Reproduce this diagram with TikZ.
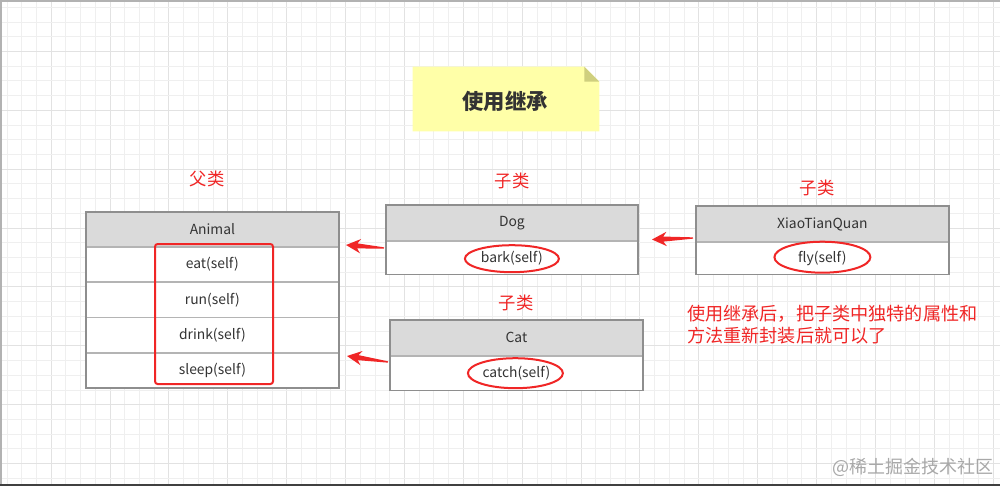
\documentclass[tikz,border=0pt]{standalone}
\usepackage{fontspec}
\setmainfont{Noto Sans CJK SC}
\usetikzlibrary{calc,shapes.geometric}
\definecolor{gridminor}{HTML}{EFEFEF}
\definecolor{gridmajor}{HTML}{E2E2E2}
\definecolor{boxgray}{HTML}{8E8E8E}
\definecolor{sepgray}{HTML}{B4B4B4}
\definecolor{headgray}{HTML}{DADADA}
\definecolor{textdark}{HTML}{333333}
\definecolor{annored}{HTML}{F02626}
\definecolor{notefill}{HTML}{FFFFA8}
\definecolor{notefold}{HTML}{CFCF7E}
\definecolor{wmgray}{HTML}{A8A8A8}
\newcommand\tarrow[2]{%
  \path ($(#2)!8.5pt!(#1)$) coordinate (ai) ($(#2)!11pt!(#1)$) coordinate (ab);
  \fill[annored] ($(#1)!0.5pt!90:(#2)$) -- ($(ai)!1.9pt!90:(#2)$) -- ($(ab)!5.4pt!90:(#2)$) -- (#2)
    -- ($(ab)!5.4pt!-90:(#2)$) -- ($(ai)!1.9pt!-90:(#2)$) -- ($(#1)!0.5pt!-90:(#2)$) -- cycle;}
\begin{document}
\begin{tikzpicture}[x=0.75pt,y=-0.75pt,
  cell/.style={draw=sepgray, line width=0.6pt, anchor=north west, inner sep=0pt,
    text=textdark, font=\fontsize{10.4}{12}\selectfont},
  headcell/.style={cell, fill=headgray},
  rowcell/.style={cell, fill=white},
  outline/.style={draw=boxgray, line width=1.1pt},
  hilite/.style={draw=annored, line width=1.5pt},
  redlabel/.style={text=annored, font=\fontsize{13}{15}\selectfont},
]
\useasboundingbox (0,0) rectangle (1000,486);
\fill[white] (0,0) rectangle (1000,486);
% grid
\foreach \i in {0,...,67}{
  \pgfmathsetmacro\xx{7+14.72*\i}
  \pgfmathtruncatemacro\mm{mod(\i,4)}
  \ifnum\mm=3 \draw[gridmajor, line width=0.7pt] (\xx,0) -- (\xx,486);
  \else \draw[gridminor, line width=0.6pt] (\xx,0) -- (\xx,486); \fi}
\foreach \i in {0,...,32}{
  \pgfmathsetmacro\yy{7.25+14.72*\i}
  \pgfmathtruncatemacro\mm{mod(\i,4)}
  \ifnum\mm=3 \draw[gridmajor, line width=0.7pt] (0,\yy) -- (1000,\yy);
  \else \draw[gridminor, line width=0.6pt] (0,\yy) -- (1000,\yy); \fi}
% frame
\draw[gray!60, line width=1.1pt] (0,0.8) -- (1000,0.8);
\draw[gray!60, line width=1.1pt] (0.8,0) -- (0.8,486);
\draw[black!75, line width=1.5pt] (0,485) -- (1000,485);

% title note
\node[minimum width=186*0.75pt, minimum height=64*0.75pt, inner sep=0pt] (title) at (506,99) {};
\fill[notefill] (title.north west) -- ($(title.north east)+(-15,0)$) -- ($(title.north east)+(0,15)$)
  -- (title.south east) -- (title.south west) -- cycle;
\fill[notefold] ($(title.north east)+(-15,0)$) -- ($(title.north east)+(0,15)$) -- ($(title.north east)+(-15,15)$) -- cycle;
\node[text=textdark, font=\fontsize{16}{19}\selectfont\bfseries] (titletext) at (505,101) {使用继承};

% Animal
\node[headcell, minimum width=252*0.75pt, minimum height=34*0.75pt] (animal) at (86,212) {Animal};
\node[rowcell, minimum width=252*0.75pt, minimum height=34.5*0.75pt] (animal-eat) at (animal.south west) {eat(self)};
\node[rowcell, minimum width=252*0.75pt, minimum height=34.5*0.75pt] (animal-run) at (animal-eat.south west) {run(self)};
\node[rowcell, minimum width=252*0.75pt, minimum height=34.5*0.75pt] (animal-drink) at (animal-run.south west) {drink(self)};
\node[rowcell, minimum width=252*0.75pt, minimum height=34.5*0.75pt] (animal-sleep) at (animal-drink.south west) {sleep(self)};
\draw[outline] (animal.north west) rectangle (animal-sleep.south east);
\node[hilite, rounded corners=2pt, minimum width=118*0.75pt, minimum height=140*0.75pt, anchor=north west] (animal-hl) at (154,243) {};
\node[redlabel] (lbl-parent) at (207,179) {父类};

% Dog
\node[headcell, minimum width=251*0.75pt, minimum height=35*0.75pt] (dog) at (386,205) {Dog};
\node[rowcell, minimum width=251*0.75pt, minimum height=33*0.75pt] (dog-bark) at (dog.south west) {bark(self)};
\draw[outline] (dog.north west) rectangle (dog-bark.south east);
\node[hilite, ellipse, minimum width=94*0.75pt, minimum height=27*0.75pt, inner sep=0pt] (dog-ell) at ($(dog-bark.center)+(0,1)$) {};
\node[redlabel] (lbl-dog) at (512,181) {子类};

% XiaoTianQuan
\node[headcell, minimum width=252*0.75pt, minimum height=35*0.75pt] (xtq) at (696,206) {XiaoTianQuan};
\node[rowcell, minimum width=252*0.75pt, minimum height=32*0.75pt] (xtq-fly) at (xtq.south west) {fly(self)};
\draw[outline] (xtq.north west) rectangle (xtq-fly.south east);
\node[hilite, ellipse, minimum width=96*0.75pt, minimum height=31*0.75pt, inner sep=0pt] (xtq-ell) at ($(xtq-fly.center)+(0,-1)$) {};
\node[redlabel] (lbl-xtq) at (817,188) {子类};

% Cat
\node[headcell, minimum width=252*0.75pt, minimum height=35*0.75pt] (cat) at (390,320) {Cat};
\node[rowcell, minimum width=252*0.75pt, minimum height=34*0.75pt] (cat-catch) at (cat.south west) {catch(self)};
\draw[outline] (cat.north west) rectangle (cat-catch.south east);
\node[hilite, ellipse, minimum width=95*0.75pt, minimum height=30*0.75pt, inner sep=0pt] (cat-ell) at ($(cat-catch.center)+(-1,0)$) {};
\node[redlabel] (lbl-cat) at (516,303) {子类};

% arrows
\coordinate (a1t) at (384,248);
\coordinate (a1p) at (346,245);
\coordinate (a2t) at (693,238);
\coordinate (a2p) at (652,239.5);
\coordinate (a3t) at (388,362);
\coordinate (a3p) at (347,356);
\tarrow{a1t}{a1p}
\tarrow{a2t}{a2p}
\tarrow{a3t}{a3p}

% note text
\node[anchor=base west, align=left, inner sep=0pt, text=annored,
  font=\fontsize{13.6}{16.5}\selectfont] (summary) at (687,342)
  {使用继承后，把子类中独特的属性和\\方法重新封装后就可以了};

% watermark
\node[anchor=east, inner sep=0pt, text=wmgray, font=\fontsize{13.5}{16}\selectfont] (wm) at (994,467) {@稀土掘金技术社区};
\end{tikzpicture}
\end{document}
